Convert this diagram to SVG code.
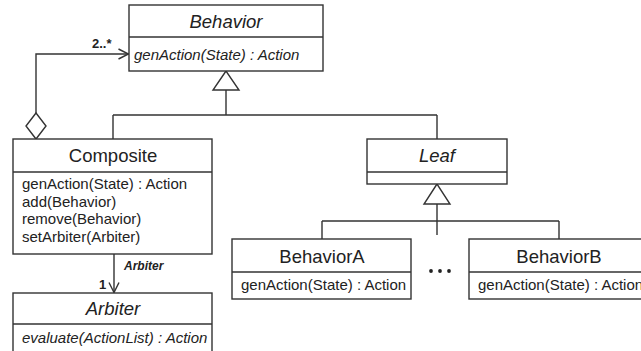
<svg xmlns="http://www.w3.org/2000/svg" width="641" height="351" viewBox="0 0 641 351">
<defs>
<style>
.box{fill:#fff;stroke:#333;stroke-width:1.4}
.ln{fill:none;stroke:#333;stroke-width:1.4}
.t{font-family:"Liberation Sans",Arial,sans-serif;fill:#222}
.title{font-size:18.5px;text-anchor:middle}
.m{font-size:15px}
.it{font-style:italic}
.lbl{font-size:12px;font-weight:bold;font-style:italic}
.mult{font-size:13px;font-weight:bold}
</style>
<marker id="open" viewBox="0 0 12 12" refX="11" refY="6" markerWidth="12" markerHeight="12" markerUnits="userSpaceOnUse" orient="auto">
<path d="M1,1 L11,6 L1,11" fill="none" stroke="#333" stroke-width="1.4"/>
</marker>
</defs>
<rect width="641" height="351" fill="#fff"/>
<g id="connectors">
<path class="ln" d="M226,90 V115 M113,115 H437 M113,115 V139 M437,115 V139"/>
<polygon class="box" points="226,71 213,90 239,90"/>
<path class="ln" d="M437,204 V235 M322,221 H559 M322,221 V239 M559,221 V239"/>
<polygon class="box" points="437,184 424,204 450,204"/>
<path class="ln" d="M36,113 V54 H128.5" marker-end="url(#open)"/>
<polygon class="box" points="36,113 46,126 36,139 26,126"/>
<text class="t mult" x="92" y="48">2..*</text>
<path class="ln" d="M114,254 V292.5" marker-end="url(#open)"/>
<text class="t lbl" x="124" y="270">Arbiter</text>
<text class="t mult" x="99" y="289">1</text>
<circle cx="431" cy="271" r="1.9" fill="#222"/>
<circle cx="440" cy="271" r="1.9" fill="#222"/>
<circle cx="449" cy="271" r="1.9" fill="#222"/>
</g>
<g id="Behavior">
<rect class="box" x="129" y="5" width="194" height="66"/>
<line class="ln" x1="129" y1="37" x2="323" y2="37"/>
<text class="t title it" x="226" y="28">Behavior</text>
<text class="t m it" x="134" y="60">genAction(State) : Action</text>
</g>
<g id="Composite">
<rect class="box" x="13" y="139" width="199" height="115"/>
<line class="ln" x1="13" y1="172" x2="212" y2="172"/>
<text class="t title" x="113" y="162">Composite</text>
<text class="t m" x="22" y="189">genAction(State) : Action</text>
<text class="t m" x="22" y="206.5">add(Behavior)</text>
<text class="t m" x="22" y="224">remove(Behavior)</text>
<text class="t m" x="22" y="241.5">setArbiter(Arbiter)</text>
</g>
<g id="Leaf">
<rect class="box" x="367" y="139" width="140" height="45"/>
<line class="ln" x1="367" y1="172" x2="507" y2="172"/>
<text class="t title it" x="437" y="162">Leaf</text>
</g>
<g id="Arbiter">
<rect class="box" x="13" y="293" width="199" height="60"/>
<line class="ln" x1="13" y1="324" x2="212" y2="324"/>
<text class="t title it" x="113" y="315">Arbiter</text>
<text class="t m it" x="22" y="343">evaluate(ActionList) : Action</text>
</g>
<g id="BehaviorA">
<rect class="box" x="232" y="239" width="179" height="60"/>
<line class="ln" x1="232" y1="272" x2="411" y2="272"/>
<text class="t title" x="322" y="263">BehaviorA</text>
<text class="t m" x="241" y="290">genAction(State) : Action</text>
</g>
<g id="BehaviorB">
<rect class="box" x="469" y="239" width="179" height="60"/>
<line class="ln" x1="469" y1="272" x2="648" y2="272"/>
<text class="t title" x="559" y="263">BehaviorB</text>
<text class="t m" x="478" y="290">genAction(State) : Action</text>
</g>
</svg>
